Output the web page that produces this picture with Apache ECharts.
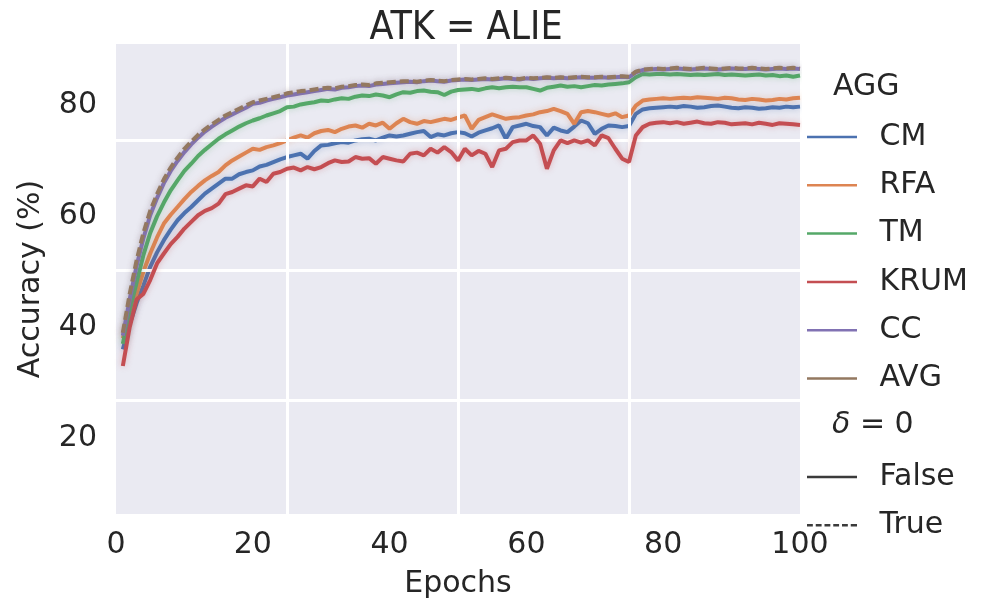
<!DOCTYPE html>
<html>
<head>
<meta charset="utf-8">
<script src="https://cdn.jsdelivr.net/npm/echarts@6/dist/echarts.min.js"></script>
<style>
  html, body { margin: 0; padding: 0; background: #fff; }
  #chart { width: 996px; height: 605px; }
</style>
</head>
<body>
<div id="chart"></div>
<script>
(function (window, document) {
    'use strict';

    // accuracy per epoch (1..100)
    var cmAcc = [
        36.0, 40.5, 44.3, 47.5, 50.9, 53.5, 55.7, 57.6, 59.3, 60.6,
        61.7, 62.9, 64.1, 65.0, 65.9, 66.8, 66.8, 67.6, 68.0, 68.3,
        69.0, 69.3, 69.8, 70.3, 70.7, 71.0, 71.3, 70.4, 71.8, 72.8,
        72.9, 73.2, 73.4, 73.3, 73.7, 73.9, 74.0, 73.7, 74.2, 74.6,
        74.4, 74.6, 74.9, 75.2, 75.4, 74.3, 74.8, 74.6, 75.0, 75.2,
        75.0, 74.4, 75.1, 75.5, 75.9, 76.4, 74.0, 76.1, 76.4, 76.7,
        76.3, 76.1, 74.6, 76.0, 75.5, 75.2, 76.2, 77.3, 76.8, 74.9,
        75.8, 76.4, 76.3, 76.1, 76.3, 78.5, 79.3, 79.5, 79.6, 79.7,
        79.8, 79.7, 79.9, 79.8, 79.6, 79.7, 79.9, 80.0, 79.8, 79.6,
        79.5, 79.7, 79.6, 79.4, 79.5, 79.7, 79.6, 79.8, 79.7, 79.8
    ];
    var rfaAcc = [
        38.0, 42.5, 46.0, 50.0, 53.3, 56.2, 58.7, 60.3, 61.7, 63.1,
        64.4, 65.5, 66.5, 67.3, 68.0, 69.2, 70.1, 70.8, 71.5, 72.2,
        72.0, 72.5, 72.8, 73.2, 73.7, 74.2, 74.6, 74.2, 75.0, 75.4,
        75.6, 75.2, 75.8, 76.2, 76.4, 76.0, 76.7, 76.4, 76.9, 75.8,
        76.8, 77.6, 77.0, 76.7, 77.2, 77.0, 77.3, 77.6, 77.4, 77.8,
        78.2, 75.8, 77.4, 77.9, 78.4, 78.0, 77.6, 77.8, 77.9, 78.2,
        78.4, 78.8, 79.0, 79.4, 79.0, 78.5, 76.7, 78.8, 79.0, 78.8,
        78.5, 78.2, 78.6, 77.9, 78.2, 80.0, 80.9, 81.1, 81.2, 81.3,
        81.2, 81.3, 81.4, 81.3, 81.5, 81.4, 81.3, 81.2, 81.4, 81.3,
        81.1, 81.0, 81.2, 81.1, 80.9, 81.0, 81.2, 81.1, 81.3, 81.4
    ];
    var tmAcc = [
        37.0, 43.0, 48.0, 53.0, 57.0, 60.0, 62.5, 64.7, 66.5, 68.2,
        69.5, 70.9, 72.0, 73.0, 74.0, 74.8, 75.5, 76.2, 76.8, 77.3,
        77.7, 78.2, 78.6, 79.0, 79.7, 79.8, 80.2, 80.4, 80.6, 80.9,
        80.8, 81.1, 81.3, 81.2, 81.6, 81.8, 81.7, 82.0, 81.8, 81.5,
        82.0, 82.4, 82.3, 82.6, 82.7, 82.5, 82.4, 81.9, 82.5, 82.8,
        82.9, 83.0, 82.8, 83.1, 83.3, 83.1, 83.3, 83.4, 83.3, 83.3,
        83.0, 82.7, 83.2, 83.4, 83.6, 83.4, 83.5, 83.3, 83.5, 83.7,
        83.6, 83.8, 83.9, 84.0, 84.2, 85.1, 85.7, 85.6, 85.7, 85.7,
        85.6, 85.7, 85.6, 85.5, 85.6, 85.5, 85.6, 85.7, 85.5, 85.6,
        85.5, 85.4, 85.5, 85.6, 85.4, 85.5, 85.3, 85.4, 85.2, 85.4
    ];
    var krumAcc = [
        33.0, 40.0, 45.0, 46.0, 48.5, 51.5, 53.3, 55.0, 56.3, 57.8,
        59.0, 60.2, 61.0, 61.5, 62.3, 64.0, 64.4, 65.0, 65.6, 65.4,
        66.8, 66.2, 67.7, 68.0, 68.6, 68.8, 68.3, 68.9, 68.5, 68.9,
        69.6, 70.1, 69.8, 69.9, 70.7, 70.4, 70.5, 69.5, 70.7, 70.4,
        70.1, 69.9, 71.3, 71.5, 71.0, 72.2, 71.5, 72.5, 71.6, 70.1,
        72.2, 71.0, 71.8, 71.3, 68.9, 71.9, 72.2, 73.4, 73.7, 73.7,
        74.6, 73.1, 68.6, 71.9, 73.7, 73.2, 73.7, 73.3, 73.7, 72.8,
        74.6, 74.1, 72.2, 70.4, 69.8, 74.6, 76.1, 76.7, 76.9, 77.0,
        76.8, 77.0, 76.7, 76.9, 77.1, 76.8, 76.7, 77.0, 76.9, 76.6,
        76.7, 76.8, 76.6, 76.9, 76.7, 76.5, 76.8, 76.7, 76.6, 76.5
    ];
    var ccAcc = [
        38.5, 45.0, 51.0, 56.0, 60.2, 63.3, 66.0, 68.2, 70.0, 71.6,
        73.0, 74.2, 75.3, 76.2, 77.0, 77.8, 78.4, 79.0, 79.6, 80.3,
        80.5, 80.9, 81.2, 81.5, 81.8, 82.0, 82.2, 82.4, 82.6, 82.8,
        83.0, 82.9, 83.2, 83.3, 83.5, 83.6, 83.5, 83.8, 83.9, 84.0,
        84.1, 84.2, 84.3, 84.2, 84.4, 84.5, 84.4, 84.3, 84.5, 84.6,
        84.7, 84.6, 84.7, 84.8, 84.7, 84.8, 84.9, 84.8, 84.7, 84.9,
        84.8, 84.9, 85.0, 84.9, 85.0, 84.9, 85.0, 85.1, 85.0, 85.0,
        85.1, 85.0, 85.1, 85.2, 85.1, 86.0, 86.4, 86.5, 86.6, 86.5,
        86.6, 86.7, 86.6, 86.5, 86.6, 86.7, 86.6, 86.5, 86.6, 86.7,
        86.6, 86.6, 86.7, 86.6, 86.5, 86.6, 86.7, 86.6, 86.7, 86.6
    ];
    var avgAcc = [
        39.0, 46.0, 52.0, 57.0, 61.0, 64.0, 66.7, 68.8, 70.6, 72.2,
        73.5, 74.7, 75.7, 76.6, 77.4, 78.2, 78.8, 79.4, 80.0, 80.6,
        80.9, 81.2, 81.5, 81.8, 82.2, 82.4, 82.6, 82.7, 82.9, 83.1,
        83.2, 83.1, 83.4, 83.5, 83.7, 83.8, 83.7, 84.0, 84.1, 84.2,
        84.3, 84.4, 84.4, 84.3, 84.5, 84.6, 84.5, 84.4, 84.6, 84.7,
        84.8, 84.7, 84.8, 84.9, 84.8, 84.9, 85.0, 84.9, 84.8, 85.0,
        84.9, 85.0, 85.1, 85.0, 85.1, 85.0, 85.1, 85.2, 85.1, 85.1,
        85.2, 85.1, 85.2, 85.3, 85.2, 86.1, 86.5, 86.6, 86.7, 86.6,
        86.7, 86.8, 86.7, 86.6, 86.7, 86.8, 86.7, 86.6, 86.7, 86.8,
        86.7, 86.7, 86.8, 86.7, 86.6, 86.7, 86.8, 86.7, 86.8, 86.7
    ];

    var aggNames = ['CM', 'RFA', 'TM', 'KRUM', 'CC', 'AVG'];
    var aggData = [cmAcc, rfaAcc, tmAcc, krumAcc, ccAcc, avgAcc];
    var aggColors = ['#4C72B0', '#DD8452', '#55A868', '#C44E52', '#8172B3', '#937860'];
    var aggDashed = [false, false, false, false, false, true];
    var deltaNames = ['False', 'True'];

    var xTicks = [0, 20, 40, 60, 80, 100];
    var yTicks = [20, 40, 60, 80];
    // the white grid of the picture does not sit on the ticks
    var xGrid = [25, 50, 75];
    var yGrid = [26.9, 50.3, 73.7];

    var textColor = '#262626';
    var font = 'DejaVu Sans';

    // legend icons: a flat bar, and a dashed bar
    var solidIcon = 'path://M0,0H60V3H0Z';
    var dashedIcon = 'path://M0,0H7V3H0Z M10.5,0H17.5V3H10.5Z M21,0H28V3H21Z M31.5,0H38.5V3H31.5Z M42,0H49V3H42Z M52.5,0H60V3H52.5Z';

    function hexAlpha(hex, a) {
        var n = parseInt(hex.slice(1), 16);
        return 'rgba(' + (n >> 16) + ',' + ((n >> 8) & 255) + ',' + (n & 255) + ',' + a + ')';
    }

    var chart = echarts.init(document.getElementById('chart'), null, { renderer: 'canvas' });

    var series = [];
    // gridlines, under everything
    series.push({
        type: 'line',
        name: '__grid',
        data: [],
        z: 1,
        silent: true,
        markLine: {
            silent: true,
            symbol: ['none', 'none'],
            label: { show: false },
            animation: false,
            lineStyle: { color: '#ffffff', width: 3, type: 'solid' },
            emphasis: { disabled: true },
            data: xGrid.map(function (v) { return { xAxis: v }; })
                .concat(yGrid.map(function (v) { return { yAxis: v }; }))
        }
    });

    aggNames.forEach(function (name, i) {
        series.push({
            type: 'line',
            name: name,
            z: 3 + i,
            showSymbol: false,
            symbol: 'none',
            data: aggData[i].map(function (v, k) { return [k + 1, v]; }),
            lineStyle: {
                color: aggColors[i],
                width: 4,
                type: aggDashed[i] ? [9, 4] : 'solid',
                shadowColor: hexAlpha(aggColors[i], 0.35),
                shadowBlur: 6
            },
            itemStyle: { color: aggColors[i] },
            emphasis: { disabled: true }
        });
    });

    deltaNames.forEach(function (name) {
        series.push({
            type: 'line',
            name: name,
            data: [],
            symbol: 'none',
            lineStyle: { color: '#3b3b3b', width: 3 },
            itemStyle: { color: '#3b3b3b' }
        });
    });

    function legend(top, items) {
        return {
            orient: 'vertical',
            left: 807,
            top: top,
            padding: 0,
            itemWidth: 65,
            itemHeight: 2.5,
            itemGap: 18.3,
            selectedMode: false,
            data: items,
            textStyle: {
                color: textColor, fontSize: 30, fontFamily: font,
                lineHeight: 30, padding: [0, 0, 0, 10]
            }
        };
    }

    var option = {
        animation: false,
        backgroundColor: '#ffffff',
        title: {
            text: 'ATK = ALIE',
            left: 461,
            top: 4,
            textAlign: 'center',
            textStyle: {
                color: textColor, fontSize: 39, fontWeight: 'normal',
                fontFamily: 'DejaVu Sans Condensed, DejaVu Sans'
            }
        },
        grid: {
            left: 116, right: 196, top: 44, bottom: 91,
            show: true, backgroundColor: '#EAEAF2', borderWidth: 0
        },
        legend: [
            legend(122, aggNames.map(function (n) { return { name: n, icon: solidIcon }; })),
            legend(462, [
                { name: deltaNames[0], icon: solidIcon },
                { name: deltaNames[1], icon: dashedIcon }
            ])
        ],
        graphic: [
            {
                type: 'text', left: 833, top: 72,
                style: { text: 'AGG', fill: textColor, font: '30px ' + font }
            },
            {
                type: 'text', left: 832, top: 410,
                style: {
                    text: '{i|δ}{n| = 0}',
                    fill: textColor,
                    rich: {
                        i: { fontSize: 30, fontStyle: 'italic', fontFamily: font, fill: textColor },
                        n: { fontSize: 30, fontFamily: font, fill: textColor }
                    }
                }
            }
        ],
        xAxis: {
            type: 'value',
            min: 0,
            max: 100,
            interval: 20,
            name: 'Epochs',
            nameLocation: 'middle',
            nameGap: 55,
            nameTextStyle: { color: textColor, fontSize: 30, fontFamily: font },
            axisLine: { show: false },
            axisTick: { show: false },
            splitLine: { show: false },
            axisLabel: {
                color: textColor, fontSize: 30, fontFamily: font, margin: 16,
                customValues: xTicks
            }
        },
        yAxis: {
            type: 'value',
            min: 6.3,
            max: 91.1,
            name: 'Accuracy (%)',
            nameLocation: 'middle',
            nameGap: 70,
            nameTextStyle: { color: textColor, fontSize: 30, fontFamily: font },
            axisLine: { show: false },
            axisTick: { show: false },
            splitLine: { show: false },
            axisLabel: {
                color: textColor, fontSize: 30, fontFamily: font, margin: 19,
                customValues: yTicks
            }
        },
        series: series
    };

    chart.setOption(option);
})(window, document);
</script>
</body>
</html>
